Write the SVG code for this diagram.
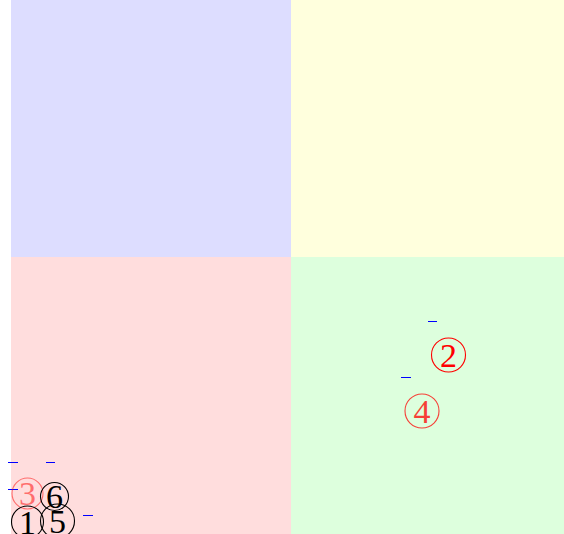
<svg xmlns="http://www.w3.org/2000/svg" width="564" height="534" viewBox="0 0 564 534">
<style>
.t{font-family:"Liberation Serif","DejaVu Serif",serif;font-size:34px;text-anchor:middle}
.ck{fill:none;stroke:#000;stroke-width:1.1}
.cr{fill:none;stroke:#ff0000;stroke-width:1.1}
.k{fill:#000}
.r{fill:#ff0000}
.d{stroke:#0000ff;stroke-width:1}
</style>
<rect width="564" height="534" fill="#ffffff"/>
<g id="quadrants">
<rect x="11" y="0" width="280" height="257" fill="#ddddff"/>
<rect x="291" y="0" width="273" height="257" fill="#ffffdd"/>
<rect x="11" y="257" width="280" height="277" fill="#ffdddd"/>
<rect x="291" y="257" width="273" height="277" fill="#ddffdd"/>
</g>
<g id="connectors">
<line class="d" x1="8" y1="462.5" x2="18" y2="462.5"/>
<line class="d" x1="46" y1="462.5" x2="55" y2="462.5"/>
<line class="d" x1="8" y1="489.5" x2="18" y2="489.5"/>
<line class="d" x1="83" y1="515.5" x2="93" y2="515.5"/>
<line class="d" x1="428" y1="321.5" x2="437" y2="321.5"/>
<line class="d" x1="401" y1="377.5" x2="411" y2="377.5"/>
</g>
<g id="n2"><circle class="cr" cx="448.5" cy="355" r="17"/><text class="t r" x="448.5" y="367">2</text></g>
<g id="n4" opacity="0.75"><circle class="cr" cx="422" cy="411" r="17"/><text class="t r" x="422" y="423">4</text></g>
<g id="n3" opacity="0.5"><circle class="cr" cx="27.5" cy="493.5" r="15.5"/><text class="t r" x="27.5" y="505">3</text></g>
<g id="n6"><circle class="ck" cx="54.5" cy="496.5" r="14"/><text class="t k" x="54.5" y="508">6</text></g>
<g id="n1"><circle class="ck" cx="27.5" cy="522" r="16"/><text class="t k" x="27.5" y="534">1</text></g>
<g id="n5"><circle class="ck" cx="57.5" cy="521" r="17"/><text class="t k" x="57.5" y="533">5</text></g>
</svg>
